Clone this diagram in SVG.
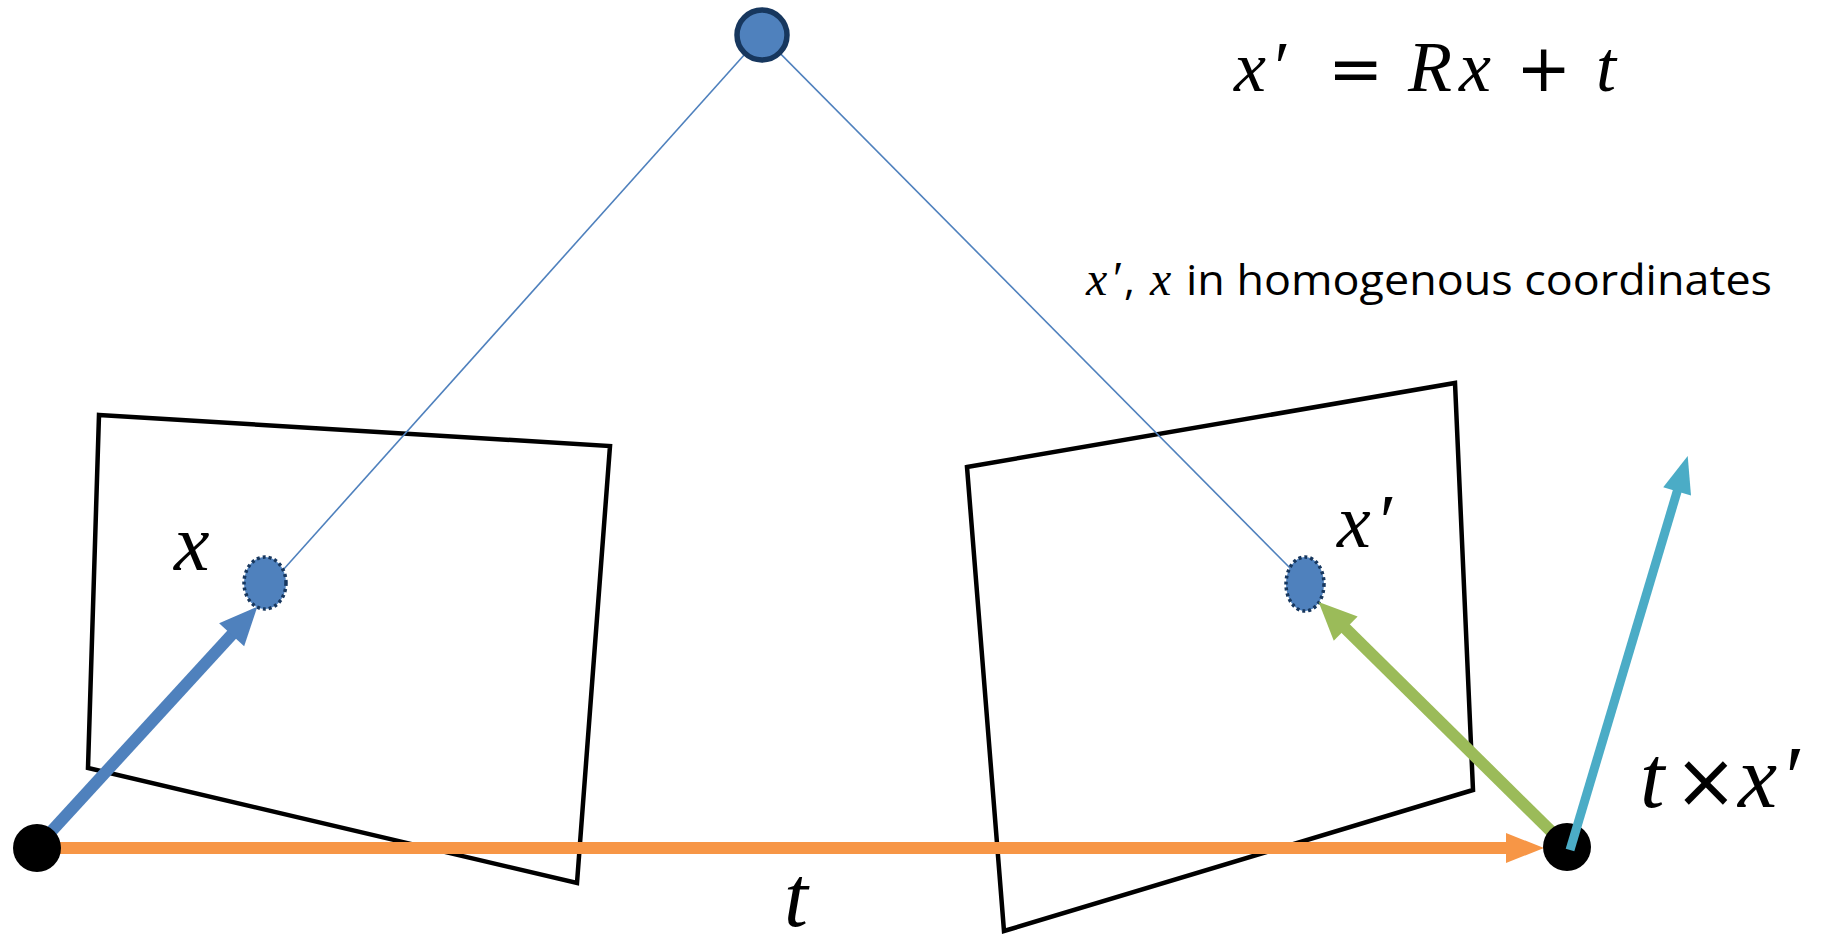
<svg xmlns="http://www.w3.org/2000/svg" width="1834" height="942" viewBox="0 0 1834 942">
<style>
.frame{fill:none;stroke:#000;stroke-width:4.5;stroke-linejoin:miter}
.ray{stroke:#4f81bd;stroke-width:1.6;fill:none}
.pt{fill:#4f81bd;stroke:#17375e;stroke-width:3.5;stroke-dasharray:3 3}
.cam{fill:#4f81bd;stroke:#17375e;stroke-width:5.5}
.dot{fill:#000}
.math{font-family:"Liberation Serif","Times New Roman",serif;font-style:italic;fill:#000}
.op{font-family:"DejaVu Sans","Liberation Sans",sans-serif;font-style:normal;fill:#000}
.body{font-family:"Open Sans","Liberation Sans",sans-serif;fill:#000}
</style>
<defs>
<marker id="hBlue" markerUnits="userSpaceOnUse" markerWidth="40" markerHeight="36" viewBox="0 -18 40 36" refX="1" refY="0" orient="auto" overflow="visible"><path d="M0,-17 L38,0 L0,17 Z" fill="#4f81bd"/></marker>
<marker id="hGreen" markerUnits="userSpaceOnUse" markerWidth="40" markerHeight="36" viewBox="0 -18 40 36" refX="1" refY="0" orient="auto" overflow="visible"><path d="M0,-17 L38,0 L0,17 Z" fill="#9bbb59"/></marker>
<marker id="hOrange" markerUnits="userSpaceOnUse" markerWidth="40" markerHeight="36" viewBox="0 -18 40 36" refX="1" refY="0" orient="auto" overflow="visible"><path d="M0,-15 L38,0 L0,15 Z" fill="#f79646"/></marker>
<marker id="hCyan" markerUnits="userSpaceOnUse" markerWidth="40" markerHeight="30" viewBox="0 -15 40 30" refX="1" refY="0" orient="auto" overflow="visible"><path d="M0,-14.5 L37,0 L0,14.5 Z" fill="#4bacc6"/></marker>
</defs>
<rect width="1834" height="942" fill="#fff"/>

<g id="image-plane-left"><polygon class="frame" points="99,415 610,446 577,883 88,768"/></g>
<g id="image-plane-right"><polygon class="frame" points="967,467 1455,383 1473,790 1004,931"/></g>

<g id="rays">
<line class="ray" x1="762" y1="35" x2="283" y2="570"/>
<line class="ray" x1="762" y1="35" x2="1292" y2="570"/>
</g>

<g id="point-3d"><circle class="cam" cx="762" cy="35" r="25"/></g>
<g id="point-x"><ellipse class="pt" cx="265" cy="583" rx="21" ry="26"/></g>
<g id="point-xprime"><ellipse class="pt" cx="1305" cy="584" rx="19" ry="27"/></g>

<g id="connectors">
<line x1="37" y1="847" x2="232.3" y2="634" stroke="#4f81bd" stroke-width="12" marker-end="url(#hBlue)"/>
<line x1="1567" y1="847" x2="1345" y2="628" stroke="#9bbb59" stroke-width="12" marker-end="url(#hGreen)"/>
<line x1="37" y1="848" x2="1507" y2="848" stroke="#f79646" stroke-width="12" marker-end="url(#hOrange)"/>
</g>

<g id="camera-left"><circle class="dot" cx="37" cy="848" r="24"/></g>
<g id="camera-right"><circle class="dot" cx="1567" cy="847" r="24"/></g>

<g id="cross-product-arrow">
<line x1="1570" y1="850" x2="1677.4" y2="490.5" stroke="#4bacc6" stroke-width="9" marker-end="url(#hCyan)"/>
</g>

<g id="labels">
<text y="91"><tspan class="math" font-size="72" x="1234">x</tspan><tspan class="math" font-size="72" x="1270">′</tspan><tspan class="op" font-size="66" x="1328">=</tspan><tspan class="math" font-size="72" x="1408">R</tspan><tspan class="math" font-size="72" x="1459">x</tspan><tspan class="op" font-size="66" x="1516">+</tspan><tspan class="math" font-size="72" x="1596">t</tspan></text>
<text y="295"><tspan class="math" font-size="48" x="1086">x</tspan><tspan class="math" font-size="48" x="1110">′</tspan><tspan class="body" font-size="42" x="1124">,</tspan><tspan class="math" font-size="48" x="1150">x</tspan></text>
<text class="body" font-size="42" x="1186" y="295" textLength="586" lengthAdjust="spacingAndGlyphs">in homogenous coordinates</text>
<text class="math" font-size="80" x="174" y="570">x</text>
<text class="math" font-size="76" y="547"><tspan x="1337">x</tspan><tspan x="1375">′</tspan></text>
<text y="807"><tspan class="math" font-size="88" x="1640">t</tspan><tspan class="op" font-size="76" x="1674">×</tspan><tspan class="math" font-size="88" x="1738">x</tspan><tspan class="math" font-size="88" x="1780">′</tspan></text>
<text class="math" font-size="86" x="784" y="926">t</text>
</g>
</svg>
